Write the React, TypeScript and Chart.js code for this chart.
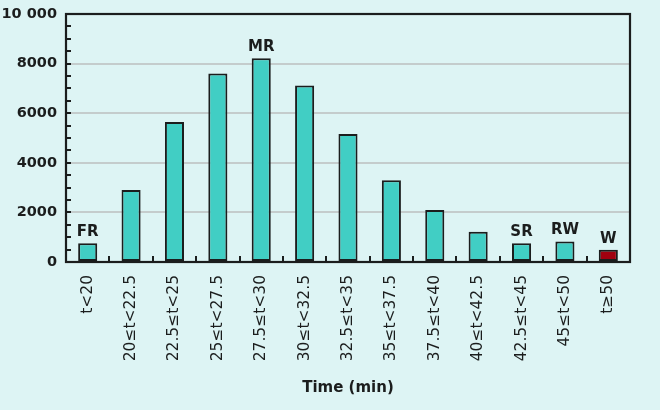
import React, { useEffect, useRef } from "react";
import { Chart, registerables } from "chart.js";

Chart.register(...registerables);

const categories = [
  "t<20",
  "20≤t<22.5",
  "22.5≤t<25",
  "25≤t<27.5",
  "27.5≤t<30",
  "30≤t<32.5",
  "32.5≤t<35",
  "35≤t<37.5",
  "37.5≤t<40",
  "40≤t<42.5",
  "42.5≤t<45",
  "45≤t<50",
  "t≥50",
];
const counts = [760, 2900, 5650, 7600, 8220, 7120, 5160, 3300, 2100, 1220, 760, 830, 490];
const barTags = ["FR", "", "", "", "MR", "", "", "", "", "", "SR", "RW", "W"];
const yTickLabels: Record<number, string> = {
  0: "0",
  2000: "2000",
  4000: "4000",
  6000: "6000",
  8000: "8000",
  10000: "10 000",
};
const xTitle = "Time (min)";

const FONT = "'DejaVu Sans', sans-serif";
const BG = "#ddf4f4";
const TEAL = "#41cec4";
const RED = "#a1000f";
const INK = "#1b1d1d";

const decorPlugin = {
  id: "decor",
  afterDatasetsDraw(chart: any) {
    const { ctx, chartArea, scales } = chart;
    const { left, right, top, bottom } = chartArea;
    ctx.save();
    ctx.strokeStyle = INK;
    ctx.lineWidth = 2;
    const ys = scales.y;
    ys.ticks.forEach((t: any) => {
      if (t.value <= 0 || t.value >= 10000) return;
      const py = Math.round(ys.getPixelForValue(t.value));
      ctx.beginPath();
      ctx.moveTo(left, py);
      ctx.lineTo(left + 5, py);
      ctx.stroke();
    });
    const xs = scales.x;
    for (let i = 1; i < categories.length; i++) {
      const px = Math.round((xs.getPixelForValue(i - 1) + xs.getPixelForValue(i)) / 2);
      ctx.beginPath();
      ctx.moveTo(px, bottom);
      ctx.lineTo(px, bottom - 6);
      ctx.stroke();
    }
    ctx.lineWidth = 2.2;
    ctx.strokeRect(left, top, right - left, bottom - top);
    const meta = chart.getDatasetMeta(0);
    ctx.fillStyle = INK;
    ctx.font = `bold 15px ${FONT}`;
    ctx.textAlign = "center";
    ctx.textBaseline = "alphabetic";
    meta.data.forEach((bar: any, i: number) => {
      const tag = barTags[i];
      if (!tag) return;
      ctx.fillText(tag, bar.x, bar.y - 7);
    });
    ctx.restore();
  },
};

export default function App() {
  const ref = useRef<HTMLCanvasElement | null>(null);
  useEffect(() => {
    document.body.style.margin = "0";
    const chart = new Chart(ref.current as HTMLCanvasElement, {
      type: "bar",
      data: {
        labels: categories,
        datasets: [
          {
            data: counts,
            backgroundColor: counts.map((_, i) => (i === counts.length - 1 ? RED : TEAL)),
            borderColor: INK,
            borderWidth: 2,
            borderSkipped: false,
            categoryPercentage: 1,
            barPercentage: 0.44,
          },
        ],
      },
      options: {
        responsive: false,
        animation: false,
        layout: { padding: { left: 0, right: 30, top: 14, bottom: 0 } },
        plugins: { legend: { display: false }, tooltip: { enabled: false } },
        scales: {
          x: {
            grid: { display: false, drawTicks: false },
            border: { display: false },
            ticks: {
              autoSkip: false,
              minRotation: 90,
              maxRotation: 90,
              padding: 13,
              color: INK,
              font: { family: FONT, size: 15.5 },
            },
            title: {
              display: true,
              text: xTitle,
              color: INK,
              font: { family: FONT, size: 15, weight: "bold" },
              padding: { top: 0, bottom: 13 },
            },
            afterFit(scale: any) {
              scale.height = 148;
              scale.paddingLeft = 0;
              scale.paddingRight = 0;
            },
          },
          y: {
            min: 0,
            max: 10000,
            border: { display: false },
            grid: {
              drawTicks: false,
              lineWidth: 2,
              color: (c: any) => {
                const v = c.tick ? c.tick.value : 0;
                return v > 0 && v < 10000 && v % 2000 === 0 ? "#c4cccc" : "rgba(0,0,0,0)";
              },
            },
            ticks: {
              stepSize: 500,
              autoSkip: false,
              padding: 9,
              color: INK,
              font: { family: FONT, size: 14.5, weight: "bold" },
              callback: (v: any) => yTickLabels[Number(v)] ?? "",
            },
            afterFit(scale: any) {
              scale.width = 66;
              scale.paddingTop = 0;
              scale.paddingBottom = 0;
            },
          },
        },
      },
      plugins: [decorPlugin],
    });
    return () => chart.destroy();
  }, []);
  return (
    <div style={{ position: "fixed", left: 0, top: 0, width: 660, height: 410, background: BG }}>
      <canvas ref={ref} width={660} height={410} style={{ display: "block" }} />
    </div>
  );
}
